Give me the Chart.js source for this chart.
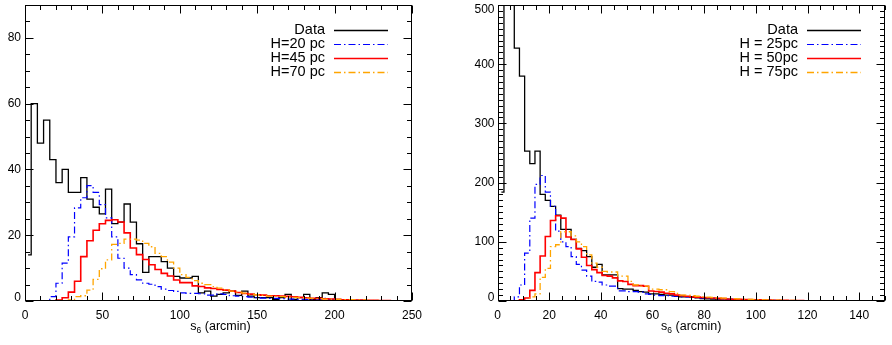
<!DOCTYPE html>
<html><head><meta charset="utf-8">
<script src="https://cdn.jsdelivr.net/npm/chart.js@4/dist/chart.umd.min.js"></script>
<style>
html,body{margin:0;padding:0;background:#fff;width:892px;height:345px;overflow:hidden}
.box{position:absolute;top:0;height:345px;width:446px}
#b1{left:0} #b2{left:446px}
canvas{display:block}
</style></head><body>
<div class="box" id="b1"><canvas id="c1" width="446" height="345"></canvas></div>
<div class="box" id="b2"><canvas id="c2" width="446" height="345"></canvas></div>
<script>
// ---------- LEFT PANEL (bin centres 2,6,10,... width 4 arcmin) ----------
const leftBinStart = 2, leftBinWidth = 4;
const leftLabels = ["Data", "H=20 pc", "H=45 pc", "H=70 pc"];
const leftXTicks = [0, 50, 100, 150, 200, 250];
const leftYTicks = [0, 20, 40, 60, 80];
const leftData = [14,60,48,55,43,36,40,33,33,37.5,31,28.5,26.5,34,23.5,24,29.5,24,17.4,8.7,13.5,13.5,12,10,7.5,7,7,7.5,2.5,3,1.5,2,2.5,3,1.7,3,1.5,1,1,1,0.5,1,2,0.5,1,2,0.5,1,2.5,2,0.3,0.3,0];
const leftH20 = [null,null,0,0,1.3,5.4,11.5,19.5,28.3,31.4,35.1,33,29.3,25.3,19.5,13,10,8,6.4,5.4,5.1,4.4,3.6,3.2,2.9,2.5,2.3,2.3,2.2,1.8,1.8,2.2,2,1.6,1.5,1.3,1.2,1,0.9,0.8,0.8,0.7,0.6,0.6,0.5,0.5,0.4,0.4,0.8,0.5,0.3,0.3,0.2,0.2,0.2,0.1,0.1,0.1,0.1,0.1,0];
const leftH45 = [null,null,null,null,0,0.3,1,2.7,6,13.5,18.3,21.5,23.5,24.5,24.7,24,20.7,16.1,14.1,12.6,11,9.6,8.4,7.6,6.4,5.6,5.6,4.6,4.4,4,3.8,3.5,3.3,3,2.6,2.3,2.1,1.9,1.8,1.6,1.6,1.5,1.4,1.3,1.1,1,0.8,0.8,0.7,0.6,0.5,0.4,0.4,0.3,0.3,0.2,0.2,0.1,0.1,0];
const leftH70 = [null,null,null,null,null,null,0,0.3,1.3,1.6,3.3,6.6,9.8,12.5,17.2,17.5,18.8,18.8,18.5,17.5,16.5,14.5,13.5,11.8,10,8,7.2,6.2,5.4,5,4.4,3.9,3.4,3,2.7,2.4,2.1,1.9,1.7,1.5,1.4,1.3,1.2,1.1,1,0.9,0.8,0.7,0.6,0.6,0.5,0.4,0.4,0.3,0.3,0.2,0.2,0.1,0.1,0.1,0,0];

// ---------- RIGHT PANEL (bin centres 1.5,3.5,... width 2 arcmin) ----------
const rightBinStart = 1.5, rightBinWidth = 2;
const rightLabels = ["Data", "H = 25pc", "H = 50pc", "H = 75pc"];
const rightXTicks = [0, 20, 40, 60, 80, 100, 120, 140];
const rightYTicks = [0, 100, 200, 300, 400, 500];
const rightData = [184,700,600,427,380,253,232,253,180,170,160,145,121,121,104,89,85,75,57,62,44,44,44,21,20,20,18,16,15,12,12,11,10,10,8,7,7,6,5.5,4,3.5,3,2,1.5,2,1,2,1.5,1,1,0.5,0.5,0.5,0];
const rightH25 = [null,null,0,7,27,81,140,197,212,184,160,118,100,92,75,62,52,42,33,32,27,25,25,17,17,16,16,15,12,11,10,9,9,8,8,7,7,6,5.5,5,4.5,4.5,4,3.5,3,3,2.5,2.5,2,2,1.5,1.5,1.2,1,1,0.8,0.8,0.6,0.5,0.5,0.4,0.3,0.3,0.2,0];
const rightH50 = [null,null,null,0,2,5,18,48,76,109,136,144,140,108,104,88,74,60,53,48,43,42,39,34,33,28,26,26,25,17,16,15,13,12,10,9,8,7,6.5,6,5.5,5,4.5,4,3.5,3,3,2.5,2.5,2,2,1.5,1.5,1.2,1,1,0.8,0.7,0.6,0.5,0.5,0.4,0.3,0.3,0.5,0.2,0];
const rightH75 = [null,null,null,null,0,0.5,7,12,40,55,92,95,117,117,110,100,92,78,64,57,50,49,49,42,42,33,27,25,25,20,20,19,19,16,13,10,10,9,8,7,6.5,6,5.5,5,4.5,4,3.5,3,2.8,2.5,2.2,2,1.8,1.5,1.3,1.2,1,0.9,0.8,0.7,0.6,0.5,0.4,0.4,0.3,0.3,0.2,0.2,0.2,0.1,0.1,0.1,0.1,0.1,0.1];

const FONT = '"Liberation Sans", Arial, Helvetica, sans-serif';
Chart.defaults.font.family = FONT;

function points(vals, start, width) {
  const out = [];
  vals.forEach((v, i) => { if (v !== null && v !== undefined) out.push({x: start + i * width, y: v}); });
  return out;
}

const STYLES = [
  {color: '#000000', width: 1.3, dash: []},
  {color: '#0000FF', width: 1.2, dash: [7, 3, 1.5, 3]},
  {color: '#FF0000', width: 1.6, dash: []},
  {color: '#FFA500', width: 1.3, dash: [7, 3, 1.5, 3]}
];

const idlPlugin = {
  id: 'idl',
  afterDatasetsDraw(chart) {
    const o = chart.options.plugins.idl;
    const ctx = chart.ctx, a = chart.chartArea, xs = chart.scales.x, ys = chart.scales.y;
    ctx.save();
    ctx.strokeStyle = '#000'; ctx.lineWidth = 1; ctx.setLineDash([]);
    const L = Math.round(a.left) + 0.5, R = Math.round(a.right) - 0.5, T = Math.round(a.top) + 0.5, B = Math.round(a.bottom) - 0.5;
    ctx.strokeRect(L, T, R - L, B - T);
    ctx.beginPath();
    for (let v = xs.min; v <= xs.max + 1e-9; v += o.xMinor) {
      const px = Math.round(xs.getPixelForValue(v)) + 0.5;
      const len = Math.abs(v / o.xMajor - Math.round(v / o.xMajor)) < 1e-6 ? 8 : 4.5;
      ctx.moveTo(px, B); ctx.lineTo(px, B - len);
      ctx.moveTo(px, T); ctx.lineTo(px, T + len);
    }
    for (let v = ys.min; v <= ys.max + 1e-9; v += o.yMinor) {
      const py = Math.round(ys.getPixelForValue(v)) + 0.5;
      const len = Math.abs(v / o.yMajor - Math.round(v / o.yMajor)) < 1e-6 ? 8 : 4.5;
      ctx.moveTo(L, py); ctx.lineTo(L + len, py);
      ctx.moveTo(R, py); ctx.lineTo(R - len, py);
    }
    ctx.stroke();
    // y tick labels (IDL style: bottom label raised, top label lowered)
    ctx.font = '12px ' + FONT; ctx.fillStyle = '#000';
    ctx.textAlign = 'right'; ctx.textBaseline = 'middle';
    o.yTicks.forEach(v => {
      let y = ys.getPixelForValue(v);
      if (v === ys.min) y -= 3.5;
      if (v === ys.max) y += 4.5;
      ctx.fillText(String(v), a.left - o.yPad, y);
    });
    ctx.restore();
  },
  afterDraw(chart) {
    const o = chart.options.plugins.idl;
    const ctx = chart.ctx, a = chart.chartArea;
    ctx.save();
    // legend: label text then line sample
    ctx.font = '14.5px ' + FONT;
    ctx.textAlign = 'right'; ctx.textBaseline = 'middle'; ctx.fillStyle = '#000';
    chart.data.datasets.forEach((ds, k) => {
      const y = a.top + 25 + k * 14;
      ctx.fillText(ds.label, a.right - 87, y);
      ctx.beginPath();
      ctx.strokeStyle = ds.borderColor; ctx.lineWidth = ds.borderWidth;
      ctx.setLineDash(ds.borderDash || []);
      const yy = Math.round(y) + 0.5;
      ctx.moveTo(a.right - 78, yy); ctx.lineTo(a.right - 24, yy);
      ctx.stroke();
    });
    ctx.setLineDash([]);
    // axis title: s_6 (arcmin)
    const big = '12.5px ' + FONT, small = '8.5px ' + FONT;
    ctx.textAlign = 'left'; ctx.textBaseline = 'alphabetic'; ctx.fillStyle = '#000';
    ctx.font = big; const w1 = ctx.measureText('s').width;
    ctx.font = small; const w2 = ctx.measureText('6').width;
    ctx.font = big; const w3 = ctx.measureText(' (arcmin)').width;
    let x = (a.left + a.right) / 2 + o.titleShift - (w1 + w2 + w3) / 2;
    const yb = 330;
    ctx.font = big; ctx.fillText('s', x, yb); x += w1;
    ctx.font = small; ctx.fillText('6', x, yb + 3); x += w2;
    ctx.font = big; ctx.fillText(' (arcmin)', x, yb);
    ctx.restore();
  }
};

function makeChart(id, cfg) {
  const series = [cfg.data, cfg.m1, cfg.m2, cfg.m3];
  new Chart(document.getElementById(id), {
    type: 'line',
    data: {
      datasets: series.map((vals, k) => ({
        label: cfg.labels[k],
        data: points(vals, cfg.start, cfg.width),
        borderColor: STYLES[k].color, borderWidth: STYLES[k].width, borderDash: STYLES[k].dash,
        stepped: 'middle', pointRadius: 0, pointHoverRadius: 0, fill: false, tension: 0,
        order: 10 - k
      }))
    },
    options: {
      responsive: false, animation: false, devicePixelRatio: 1,
      layout: {padding: {left: 0, top: 5, right: cfg.padRight, bottom: 0}},
      plugins: {legend: {display: false}, tooltip: {enabled: false},
        idl: {xMajor: cfg.xMajor, xMinor: cfg.xMinor, yMajor: cfg.yMajor, yMinor: cfg.yMinor,
              titleShift: cfg.titleShift, yTicks: cfg.yTicks, yPad: cfg.yPad}},
      scales: {
        x: {type: 'linear', min: 0, max: cfg.xMax,
          grid: {display: false, drawTicks: false}, border: {display: false},
          ticks: {color: '#000', font: {size: 12}, padding: 7, maxRotation: 0, autoSkip: false},
          afterBuildTicks: s => { s.ticks = cfg.xTicks.map(v => ({value: v})); },
          afterFit: s => { s.height = 44; s.paddingLeft = 0; s.paddingRight = 0; }
        },
        y: {type: 'linear', min: 0, max: cfg.yMax,
          grid: {display: false, drawTicks: false}, border: {display: false},
          ticks: {display: false},
          afterBuildTicks: s => { s.ticks = cfg.yTicks.map(v => ({value: v})); },
          afterFit: s => { s.width = cfg.yWidth; s.paddingTop = 0; s.paddingBottom = 0; }
        }
      }
    },
    plugins: [idlPlugin]
  });
}

makeChart('c1', {
  data: leftData, m1: leftH20, m2: leftH45, m3: leftH70, labels: leftLabels,
  start: leftBinStart, width: leftBinWidth, xTicks: leftXTicks, yTicks: leftYTicks,
  xMax: 250, xMajor: 50, xMinor: 10, yMax: 90, yMajor: 20, yMinor: 5,
  yWidth: 25, yPad: 4, padRight: 34, titleShift: 2
});
makeChart('c2', {
  data: rightData, m1: rightH25, m2: rightH50, m3: rightH75, labels: rightLabels,
  start: rightBinStart, width: rightBinWidth, xTicks: rightXTicks, yTicks: rightYTicks,
  xMax: 150, xMajor: 20, xMinor: 5, yMax: 500, yMajor: 100, yMinor: 10,
  yWidth: 51.5, yPad: 3, padRight: 7, titleShift: 0
});
</script>
</body></html>
